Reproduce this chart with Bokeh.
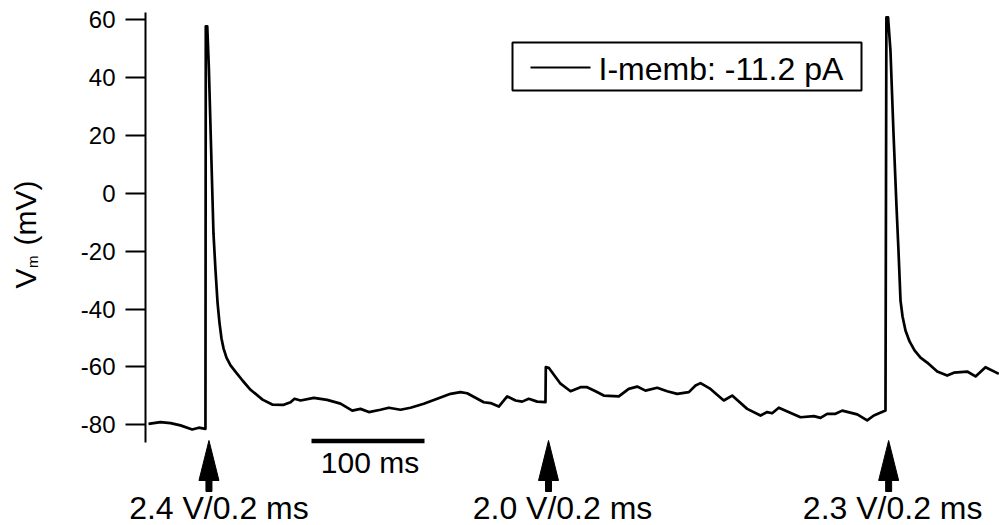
import math

from bokeh.plotting import figure
from bokeh.models import Range1d, FixedTicker, CustomJSTickFormatter
from bokeh.core.properties import value
from bokeh.embed import file_html
from bokeh.resources import INLINE

# Membrane potential recording: time (ms) and Vm (mV)
time_ms = [
    0.0, 10.6, 19.5, 28.3, 38.7, 44.5, 50.4, 50.7, 52.0, 53.4,
    57.5, 59.3, 61.1, 62.8, 64.6, 66.4, 69.0, 72.6, 78.5, 83.2,
    90.3, 100.9, 109.5, 119.7, 125.7, 129.2, 134.5, 146.3, 158.1, 169.9,
    180.3, 187.6, 195.0, 205.3, 212.7, 223.0, 231.9, 243.6, 255.5, 267.3,
    276.1, 282.0, 296.7, 302.7, 310.0, 317.4, 324.8, 330.7, 336.5, 344.0,
    351.3, 351.6, 354.2, 364.6, 373.5, 382.3, 388.2, 395.6, 402.9, 416.2,
    425.0, 432.5, 439.8, 450.2, 459.0, 467.9, 478.2, 484.1, 488.5, 497.3,
    509.1, 516.5, 529.8, 541.6, 547.5, 551.9, 557.8, 577.0, 588.8, 594.7,
    600.6, 608.0, 613.9, 627.2, 636.0, 641.9, 652.2, 653.0, 654.5, 656.6,
    659.3, 661.9, 663.7, 665.5, 667.3, 669.9, 673.5, 677.9, 683.2, 689.1,
    698.0, 706.8, 712.7, 724.5, 731.9, 740.7, 752.5,
]
vm_mv = [
    -79.7, -79.1, -79.4, -80.2, -81.6, -81.0, -81.4, 57.6, 57.6, 43.4,
    -13.9, -26.7, -37.8, -44.7, -50.2, -53.6, -56.8, -59.5, -62.4, -64.7,
    -67.9, -71.3, -73.0, -73.1, -72.2, -71.0, -71.6, -70.7, -71.4, -72.7,
    -75.1, -74.5, -75.6, -74.8, -74.1, -74.8, -74.1, -72.7, -71.0, -69.3,
    -68.7, -69.1, -72.2, -72.5, -73.7, -70.2, -71.6, -72.0, -71.0, -72.0,
    -72.2, -60.1, -60.3, -65.8, -68.4, -67.0, -67.0, -68.4, -69.9, -70.2,
    -67.6, -66.8, -68.2, -67.2, -68.4, -69.3, -68.7, -66.4, -65.6, -67.6,
    -71.6, -69.9, -74.5, -76.8, -75.6, -76.0, -74.1, -77.4, -77.0, -77.6,
    -76.2, -76.2, -75.1, -76.4, -78.5, -76.8, -75.1, 60.7, 60.7, 49.3,
    20.6, -4.2, -19.8, -37.1, -42.6, -47.4, -51.2, -54.3, -56.8, -58.5,
    -61.6, -63.0, -62.0, -61.6, -63.3, -60.1, -62.4,
]

# Stimulation times and stimulus settings
stim_ms = [53.5, 354.0, 655.0]
stim_labels = ["2.4 V/0.2 ms", "2.0 V/0.2 ms", "2.3 V/0.2 ms"]

y_ticks = [-80, -60, -40, -20, 0, 20, 40, 60]
legend_text = "I-memb: -11.2 pA"
scale_bar_ms = 100

# ---- canvas geometry (the plot frame spans the whole canvas) ----
W, H = 999, 525
ORIGIN_PX = 148          # canvas x of t = 0
ZERO_MV_PX = 192.7       # canvas y of 0 mV
PX_PER_MS = 1.13
PX_PER_MV = 2.895
AXIS_PX = 145


def tx(px):
    """canvas x pixel -> time (ms)"""
    return (px - ORIGIN_PX) / PX_PER_MS


def vy(py):
    """canvas y pixel -> potential (mV)"""
    return (ZERO_MV_PX - py) / PX_PER_MV


FONT = value("Liberation Sans")

p = figure(
    width=W, height=H,
    x_range=Range1d(tx(0), tx(W)), y_range=Range1d(vy(H), vy(0)),
    output_backend="svg", toolbar_location=None,
    x_axis_location=None,
    min_border_left=0, min_border_right=0,
    min_border_top=0, min_border_bottom=0,
    outline_line_color=None,
    background_fill_color="white", border_fill_color="white",
)
p.grid.visible = False

ax = p.yaxis[0]
ax.fixed_location = tx(AXIS_PX)
ax.ticker = FixedTicker(ticks=y_ticks)
ax.formatter = CustomJSTickFormatter(code="return tick.toFixed(0)")
ax.bounds = (vy(442), vy(12))
ax.axis_line_width = 2
ax.axis_line_color = "black"
ax.major_tick_line_width = 2
ax.major_tick_line_color = "black"
ax.major_tick_out = 20
ax.major_tick_in = 0
ax.minor_tick_line_color = None
ax.major_label_standoff = 10
ax.major_label_text_font = "Liberation Sans"
ax.major_label_text_font_size = "24px"
ax.major_label_text_color = "black"

# voltage trace
p.line(time_ms, vm_mv, line_color="black", line_width=2.7, line_join="round")

# stimulus arrows and labels
head_len, head_half, shaft_len, shaft_half = 40, 10, 11, 3
tip_px = 440
xs, ys = [], []
for t in stim_ms:
    hw = head_half / PX_PER_MS
    sw = shaft_half / PX_PER_MS
    xs.append([t, t + hw, t + sw, t + sw, t - sw, t - sw, t - hw])
    ys.append([vy(tip_px), vy(tip_px + head_len), vy(tip_px + head_len),
               vy(tip_px + head_len + shaft_len), vy(tip_px + head_len + shaft_len),
               vy(tip_px + head_len), vy(tip_px + head_len)])
p.patches(xs, ys, fill_color="black", line_color="black", line_width=1)

label_offsets_px = [10, 14, 4]
p.text(
    x=[t + o / PX_PER_MS for t, o in zip(stim_ms, label_offsets_px)],
    y=[vy(507.5)] * len(stim_ms),
    text=stim_labels,
    text_align="center", text_baseline="middle",
    text_font=FONT, text_font_size="32px", text_color="black",
)

# time scale bar
bar_start = tx(311)
p.segment(x0=[bar_start], y0=[vy(440.5)], x1=[bar_start + scale_bar_ms], y1=[vy(440.5)],
          line_color="black", line_width=4.5)
p.text(x=[bar_start + scale_bar_ms / 2 + 2 / PX_PER_MS], y=[vy(461.7)],
       text=[f"{scale_bar_ms} ms"], text_align="center", text_baseline="middle",
       text_font=FONT, text_font_size="30px", text_color="black")

# legend box
p.quad(left=[tx(512)], right=[tx(861)], top=[vy(42)], bottom=[vy(90)],
       fill_color="white", line_color="black", line_width=2)
p.segment(x0=[tx(530)], y0=[vy(67)], x1=[tx(590)], y1=[vy(67)],
          line_color="black", line_width=2)
p.text(x=[tx(598)], y=[vy(68.3)], text=[legend_text],
       text_align="left", text_baseline="middle",
       text_font=FONT, text_font_size="32px", text_color="black")

# rotated y-axis title: V_m (mV)
ang = math.pi / 2
p.text(x=[tx(25)], y=[vy(288)], text=["V"], angle=ang,
       text_align="left", text_baseline="middle",
       text_font=FONT, text_font_size="30px", text_color="black")
p.text(x=[tx(32)], y=[vy(267.5)], text=["m"], angle=ang,
       text_align="left", text_baseline="middle",
       text_font=FONT, text_font_size="15px", text_color="black")
p.text(x=[tx(25)], y=[vy(245)], text=["(mV)"], angle=ang,
       text_align="left", text_baseline="middle",
       text_font=FONT, text_font_size="30px", text_color="black")

open("out.html", "w").write(file_html(p, INLINE))
